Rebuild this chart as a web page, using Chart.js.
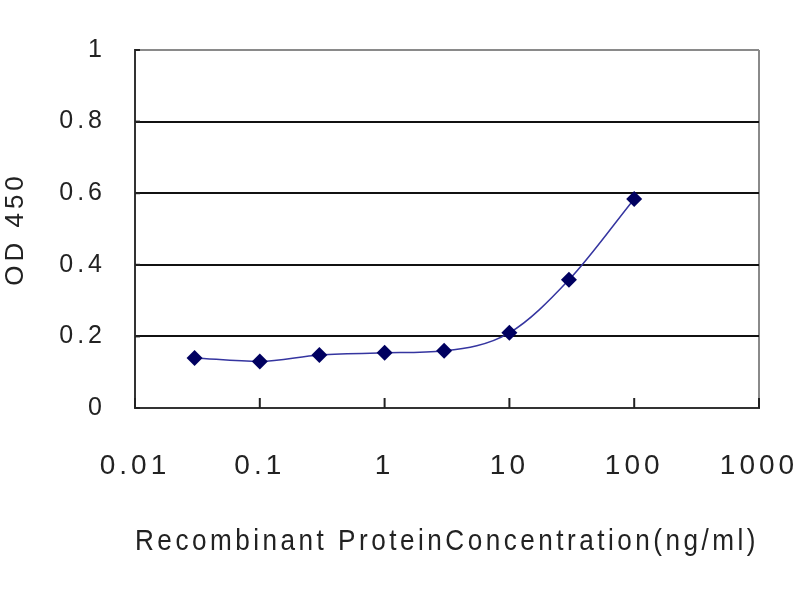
<!DOCTYPE html>
<html>
<head>
<meta charset="utf-8">
<script src="https://cdn.jsdelivr.net/npm/chart.js@4.4.0/dist/chart.umd.min.js"></script>
<style>
    html, body { margin: 0; padding: 0; background: #fff; }
    #wrap { width: 800px; height: 600px; }
</style>
</head>
<body>
<div id="wrap"><canvas id="odChart" width="800" height="600"></canvas></div>
<script>
const concentrations = [0.03, 0.1, 0.3, 1, 3, 10, 30, 100]
const odValues = [0.14, 0.13, 0.148, 0.154, 0.16, 0.21, 0.358, 0.584]
const xTicks = [0.01, 0.1, 1, 10, 100, 1000]
const yTicks = [0, 0.2, 0.4, 0.6, 0.8, 1]

const fontFamily = "'Liberation Sans', Arial, sans-serif"

// the old excel picture has wide, spaced-out lettering
const spacedText = {
    id: 'spacedText',
    beforeDraw(chart) {
        chart.ctx.letterSpacing = '4px'
    }
}

const innerTicks = {
    id: 'innerTicks',
    afterDatasetsDraw(chart) {
        const {ctx, chartArea, scales: {x, y}} = chart
        ctx.save()
        ctx.strokeStyle = '#222'
        ctx.lineWidth = 2
        xTicks.forEach(v => {
            const px = x.getPixelForValue(v)
            ctx.beginPath()
            ctx.moveTo(px, chartArea.bottom)
            ctx.lineTo(px, chartArea.bottom - 10)
            ctx.stroke()
        })
        yTicks.forEach(v => {
            const py = y.getPixelForValue(v)
            ctx.beginPath()
            ctx.moveTo(chartArea.left, py)
            ctx.lineTo(chartArea.left + 5, py)
            ctx.stroke()
        })
        ctx.restore()
    }
}

new Chart(document.getElementById('odChart'), {
    type: 'line',
    data: {
        datasets: [{
            data: concentrations.map((c, i) => ({x: c, y: odValues[i]})),
            borderColor: '#3535a0',
            borderWidth: 1.5,
            backgroundColor: '#000060',
            pointStyle: 'rectRot',
            pointRadius: 8,
            pointBorderWidth: 0,
            cubicInterpolationMode: 'monotone',
            fill: false
        }]
    },
    options: {
        responsive: false,
        animation: false,
        layout: {padding: {top: 50, right: 0, left: 0, bottom: 0}},
        plugins: {legend: {display: false}, tooltip: {enabled: false}},
        scales: {
            x: {
                type: 'logarithmic',
                min: 0.01,
                max: 1000,
                afterBuildTicks: (scale) => { scale.ticks = xTicks.map(v => ({value: v})) },
                afterFit: (scale) => {
                    scale.height = 192
                    scale.paddingRight = 41
                    scale.paddingLeft = 0
                },
                ticks: {
                    color: '#222',
                    padding: 41,
                    maxRotation: 0,
                    font: {family: fontFamily, size: 28},
                    callback: (v) => String(v)
                },
                grid: {
                    drawTicks: false,
                    lineWidth: 2,
                    color: (ctx) => ctx.tick && ctx.tick.value === 1000 ? '#8a8a8a' : 'transparent'
                },
                border: {color: '#333', width: 2},
                title: {
                    display: true,
                    text: 'Recombinant ProteinConcentration(ng/ml)',
                    color: '#222',
                    font: {family: fontFamily, size: 30},
                    padding: {top: 0, bottom: 40}
                }
            },
            y: {
                min: 0,
                max: 1,
                afterBuildTicks: (scale) => { scale.ticks = yTicks.map(v => ({value: v})) },
                afterFit: (scale) => { scale.width = 135 },
                ticks: {
                    color: '#222',
                    padding: 29,
                    font: {family: fontFamily, size: 25},
                    callback: (v) => String(v)
                },
                grid: {
                    drawTicks: false,
                    lineWidth: 2,
                    color: (ctx) => ctx.tick && ctx.tick.value === 1 ? '#8a8a8a' : '#111'
                },
                border: {color: '#333', width: 2},
                title: {
                    display: true,
                    text: 'OD 450',
                    color: '#222',
                    font: {family: fontFamily, size: 26},
                    padding: {top: 0, bottom: 0}
                }
            }
        }
    },
    plugins: [spacedText, innerTicks]
})
</script>
</body>
</html>
